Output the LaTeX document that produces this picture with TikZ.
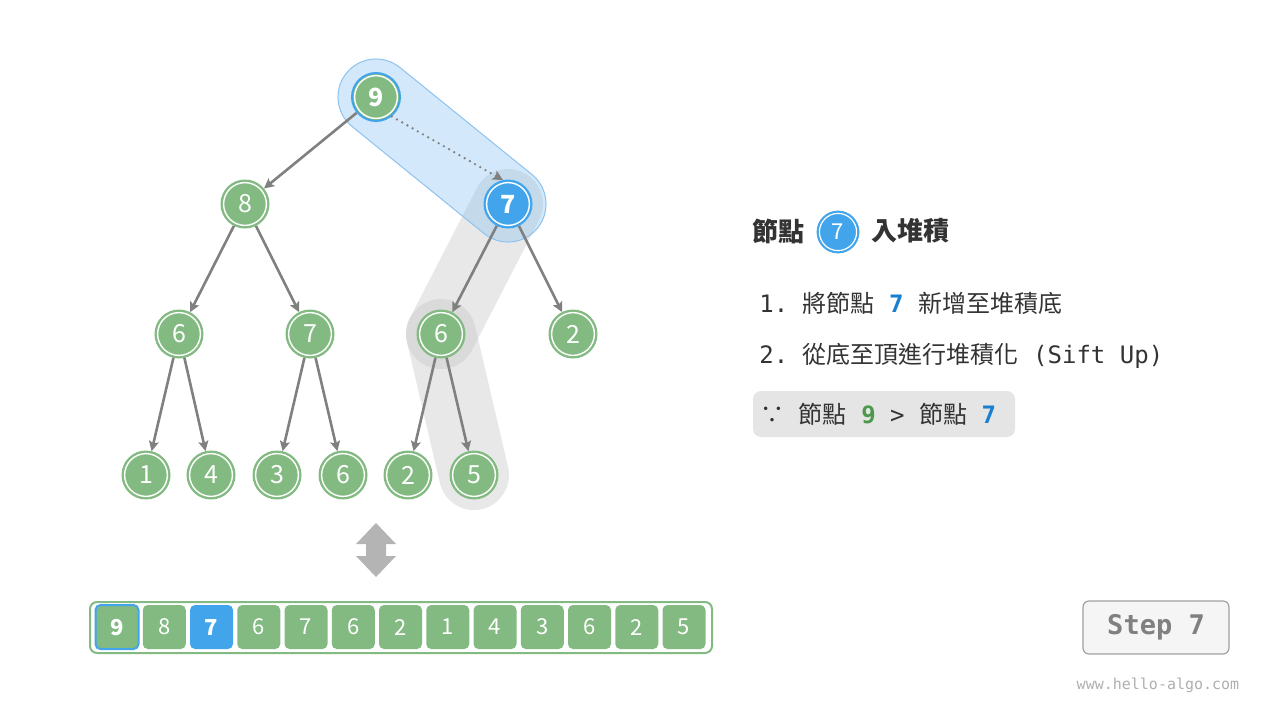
\documentclass[tikz,border=0pt]{standalone}
\usepackage{fontspec}
\setmainfont{Noto Sans CJK TC}
\setmonofont{DejaVu Sans Mono}
\usetikzlibrary{arrows.meta,shapes.misc,backgrounds}
\definecolor{nodegreen}{RGB}{131,186,130}
\definecolor{nodeblue}{RGB}{66,165,236}
\definecolor{capblue}{RGB}{130,190,240}
\definecolor{capedge}{RGB}{140,195,240}
\definecolor{bandgray}{RGB}{190,190,190}
\definecolor{edgegray}{RGB}{128,128,128}
\definecolor{arrowgray}{RGB}{180,180,180}
\definecolor{textdark}{RGB}{51,51,51}
\definecolor{textgreen}{RGB}{76,153,76}
\definecolor{textblue}{RGB}{27,127,208}
\definecolor{boxgray}{RGB}{229,229,229}
\definecolor{stepfill}{RGB}{245,245,245}
\definecolor{stepedge}{RGB}{160,160,160}
\definecolor{stepgray}{RGB}{128,128,128}
\definecolor{wmgray}{RGB}{175,175,175}

\begin{document}
\begin{tikzpicture}[x=0.5pt,y=-0.5pt,
    heap/.style={circle, fill=nodegreen, draw=nodegreen, line width=0.5pt,
      minimum size=24pt, inner sep=0pt, text=white,
      font=\fontsize{12.5}{12.5}\selectfont,
      path picture={\draw[white,line width=0.7pt] (path picture bounding box.center) circle (10.7pt);}},
    heaptop/.style={heap, draw=nodeblue, line width=1pt, font=\bfseries\fontsize{12.5}{12.5}\selectfont},
    heapnew/.style={heap, fill=nodeblue, draw=nodeblue, font=\bfseries\fontsize{12.5}{12.5}\selectfont},
    link/.style={draw=edgegray, line width=1.3pt, -{Stealth[length=5pt,width=5pt,inset=1pt]}},
    swaplink/.style={link, line cap=round, dash pattern=on 0pt off 3pt},
    band/.style={draw=bandgray, draw opacity=0.35, line width=35pt, line cap=round},
    cell/.style={rectangle, rounded corners=2.5pt, fill=nodegreen, minimum width=21.5pt,
      minimum height=22pt, inner sep=0pt, text=white, font=\fontsize{11}{11}\selectfont},
    cellfirst/.style={cell, draw=nodeblue, line width=1pt, font=\bfseries\fontsize{11}{11}\selectfont},
    cellnew/.style={cell, fill=nodeblue, font=\bfseries\fontsize{11}{11}\selectfont},
    line/.style={anchor=west, inner sep=0pt, text=textdark, font=\fontsize{12}{12}\selectfont}]

\useasboundingbox (0,0) rectangle (1280,720);
\newcommand\tm[1]{{\ttfamily\fontsize{12}{12}\selectfont #1}}

% tree
\node[heaptop] (n9) at (376,97) {9};
\node[heap] (n8) at (245,204) {8};
\node[heapnew] (n7) at (508,204) {7};
\node[heap] (n6a) at (179,334) {6};
\node[heap] (n7b) at (310,334) {7};
\node[heap] (n6b) at (441,334) {6};
\node[heap] (n2a) at (573,334) {2};
\node[heap] (n1) at (146,475) {1};
\node[heap] (n4) at (211,475) {4};
\node[heap] (n3) at (277,475) {3};
\node[heap] (n6c) at (343,475) {6};
\node[heap] (n2b) at (408,475) {2};
\node[heap] (n5) at (474,475) {5};

\draw[link] (n9) -- (n8);
\draw[swaplink] (n9.-51) -- (n7.102);
\draw[link] (n8) -- (n6a);
\draw[link] (n8) -- (n7b);
\draw[link] (n7) -- (n6b);
\draw[link] (n7) -- (n2a);
\draw[link] (n6a) -- (n1);
\draw[link] (n6a) -- (n4);
\draw[link] (n7b) -- (n3);
\draw[link] (n7b) -- (n6c);
\draw[link] (n6b) -- (n2b);
\draw[link] (n6b) -- (n5);

% highlights
\begin{scope}[on background layer]
  \draw[band] (n7.center) -- (n6b.center);
  \draw[band] (n6b.center) -- (n5.center);
  \node[rounded rectangle, rotate=-39.03, minimum width=123pt, minimum height=38pt,
    inner sep=0pt, fill=capblue, fill opacity=0.35, draw=capedge, line width=0.5pt]
    (swapzone) at (442,150.5) {};
\end{scope}

% up-down arrow
\fill[arrowgray] (376,523) -- (396,544) -- (386,544) -- (386,556) -- (396,556)
  -- (376,577) -- (356,556) -- (366,556) -- (366,544) -- (356,544) -- cycle;

% array
\draw[nodegreen, line width=1pt, rounded corners=3.5pt] (90,602) rectangle (712,653);
\foreach \v/\s [count=\i] in {9/cellfirst,8/cell,7/cellnew,6/cell,7/cell,6/cell,2/cell,
    1/cell,4/cell,3/cell,6/cell,2/cell,5/cell}
  \node[\s] (c\i) at ({117+(\i-1)*47.25},627) {\v};

% text
\node[line, font=\bfseries\fontsize{13}{13}\selectfont] (title1) at (752,231) {節點};
\node[circle, fill=nodeblue, draw=nodeblue, minimum size=21pt, inner sep=0pt, text=white,
  font=\fontsize{11}{11}\selectfont,
  path picture={\draw[white,line width=0.6pt] (path picture bounding box.center) circle (9.3pt);}]
  (title7) at (838,232) {7};
\node[line, font=\bfseries\fontsize{13}{13}\selectfont] (title2) at (871,231) {入堆積};

\node[line] (step1) at (759,303)
  {\tm{1.\ }將節點\tm{\ {\bfseries\color{textblue}7}\ }新增至堆積底};
\node[line] (step2) at (759,356)
  {\tm{2.\ }從底至頂進行堆積化\tm{\ (Sift Up)}};

\fill[boxgray, rounded corners=4pt] (753,391) rectangle (1015,437);
\node[line] (reason) at (760,414)
  {∵\tm{\ }節點\tm{\ {\bfseries\color{textgreen}9}\ >\ }節點\tm{\ {\bfseries\color{textblue}7}}};

% step label
\node[draw=stepedge, fill=stepfill, rounded corners=3pt, line width=0.6pt, minimum width=73pt,
  minimum height=26.5pt, text=stepgray, font=\ttfamily\bfseries\fontsize{13.5}{13.5}\selectfont]
  (stepbox) at (1156,627.5) {Step 7};
\node[text=wmgray, font=\ttfamily\fontsize{7.5}{7.5}\selectfont] (wm) at (1158,685) {www.hello-algo.com};

\end{tikzpicture}
\end{document}
